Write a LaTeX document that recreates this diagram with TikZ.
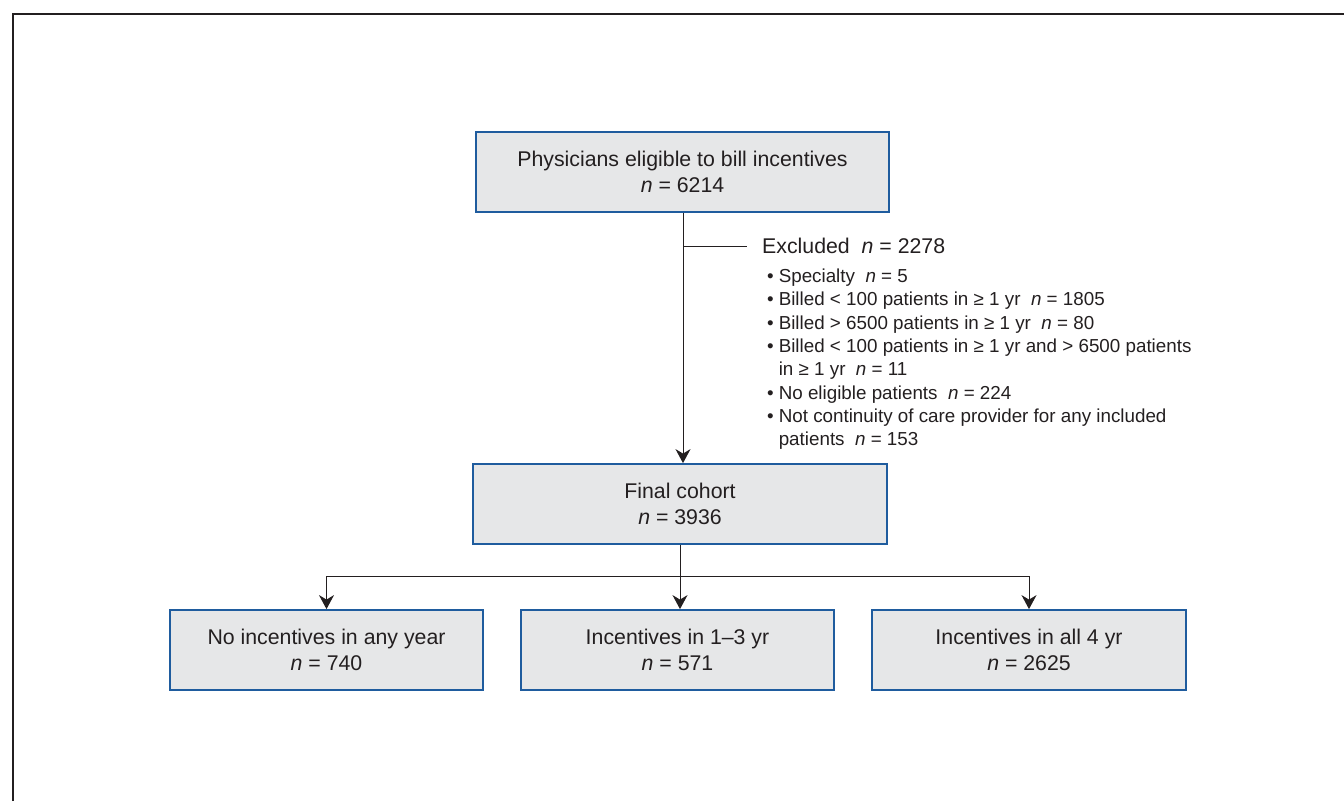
\documentclass[tikz,border=0pt]{standalone}
\usepackage{fontspec}
\setmainfont{Liberation Sans}
\usetikzlibrary{arrows.meta,calc}
\definecolor{boxfill}{HTML}{E6E7E8}
\definecolor{boxline}{HTML}{1F5C9E}
\definecolor{ink}{HTML}{231F20}
\begin{document}
\begin{tikzpicture}[x=1pt,y=-1pt,
  flowbox/.style={draw=boxline,line width=1.8pt,fill=boxfill,minimum height=80pt,align=center,text=ink,font=\fontsize{21.3}{26.5}\selectfont,inner sep=0pt},
  conn/.style={draw=ink,line width=1pt},
  arr/.style={conn,-{Stealth[length=14pt,width=15pt,inset=4.5pt]}}]
\useasboundingbox (0,0) rectangle (1344,801);
\draw[ink,line width=2pt] (13,801) -- (13,14) -- (1344,14);
\node[flowbox,minimum width=413pt] (top) at (682.5,172) {Physicians eligible to bill incentives\\ \textit{n} = 6214};
\node[flowbox,minimum width=414pt] (final) at (680,504) {Final cohort\\ \textit{n} = 3936};
\node[flowbox,minimum width=313pt] (b1) at (326.5,650) {No incentives in any year\\ \textit{n} = 740};
\node[flowbox,minimum width=313pt] (b2) at (677.5,650) {Incentives in 1--3 yr\\ \textit{n} = 571};
\node[flowbox,minimum width=314pt] (b3) at (1029,650) {Incentives in all 4 yr\\ \textit{n} = 2625};
\node[anchor=west,text=ink,font=\fontsize{21.3}{26}\selectfont,inner sep=0pt] (exc) at (762,246) {Excluded\ \ \textit{n} = 2278};
\node[anchor=north west,text=ink,font=\fontsize{18.8}{23.3}\selectfont,inner sep=0pt,align=left] (list) at (767,266) {%
\begin{tabular}{@{}l@{\hspace{5pt}}l@{}}
\textbullet & Specialty\ \ \textit{n} = 5\\
\textbullet & Billed < 100 patients in ≥ 1 yr\ \ \textit{n} = 1805\\
\textbullet & Billed > 6500 patients in ≥ 1 yr\ \ \textit{n} = 80\\
\textbullet & Billed < 100 patients in ≥ 1 yr and > 6500 patients\\
 & in ≥ 1 yr\ \ \textit{n} = 11\\
\textbullet & No eligible patients\ \ \textit{n} = 224\\
\textbullet & Not continuity of care provider for any included\\
 & patients\ \ \textit{n} = 153
\end{tabular}};
\coordinate (ts) at ($(top.south)+(0.5,0)$);
\draw[arr] (ts) -- (ts |- final.north);
\coordinate (branch) at (ts |- exc.west);
\draw[conn] (branch) -- ($(exc.west)+(-15,0)$);
\coordinate (hl) at ($(b1.north)+(0,-33)$);
\coordinate (hr) at ($(b3.north)+(0,-33)$);
\draw[conn] (hl) -- (hr);
\draw[arr] (hl) -- (b1.north);
\draw[arr] (hr) -- (b3.north);
\draw[arr] (final.south) -- (final.south |- b2.north);
\end{tikzpicture}
\end{document}
